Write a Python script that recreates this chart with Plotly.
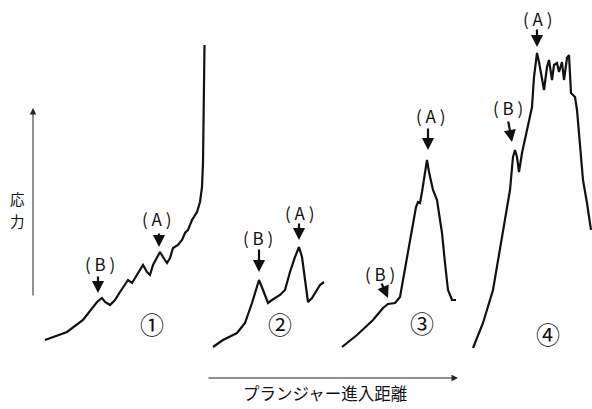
import plotly.graph_objects as go

# Stress vs plunger penetration distance for four samples (arbitrary units)
dist_1 = [45, 55, 67, 83, 97, 102, 105, 110, 115, 120, 128, 132, 137, 140, 143, 147, 150, 153, 157, 160,
          163, 167, 170, 173, 178, 182, 185, 188, 192, 197, 200, 202, 203, 203.3, 204, 204.5]
stress_1 = [69, 73, 77, 89, 107, 111, 107, 104, 109, 117, 129, 126, 134, 139, 144, 137, 134, 144, 151, 157,
            152, 146, 151, 161, 164, 169, 176, 179, 189, 197, 207, 222, 246, 279, 329, 364]

dist_2 = [213, 223, 237, 245, 252, 257, 259, 263, 268, 272, 280, 285, 290, 295, 299, 302, 305, 308, 312,
          317, 320, 324]
stress_2 = [62, 69, 76, 86, 106, 122, 129, 119, 106, 109, 114, 119, 137, 152, 162, 152, 129, 107, 111,
            119, 124, 127]

dist_3 = [342, 357, 373, 383, 388, 395, 400, 403, 408, 413, 416, 418, 420, 422, 425, 427, 429, 433, 437,
          438, 442, 445, 448, 452, 456]
stress_3 = [62, 74, 89, 101, 105, 106, 112, 129, 159, 189, 202, 207, 206, 217, 237, 249, 237, 219, 209,
            202, 176, 146, 119, 109, 109]

dist_4 = [473, 483, 493, 500, 505, 510, 513, 515, 517, 519, 522, 525, 528, 532, 534, 537, 539, 542, 544,
          547, 549, 552, 554, 557, 559, 562, 564, 567, 569, 571, 575, 577, 580, 583, 587, 591]
stress_4 = [61, 86, 119, 162, 192, 219, 252, 259, 252, 237, 256, 269, 282, 302, 332, 356, 347, 332, 319,
            342, 349, 329, 344, 346, 337, 347, 329, 351, 354, 316, 312, 299, 266, 229, 206, 179]

curves = [(dist_1, stress_1), (dist_2, stress_2), (dist_3, stress_3), (dist_4, stress_4)]

# Event markers: label text, label position, arrow tail and arrow head
marker_labels = ["( A )", "( B )", "( B )", "( A )", "( A )", "( B )", "( A )", "( B )"]
label_x = [156, 100, 258, 299, 430, 380, 537, 508]
label_y = [191, 146, 172, 197, 294, 136, 391, 302]
tail_x = [159, 98, 259, 299, 428, 381, 537, 508]
tail_y = [177, 134, 161, 187, 282, 127, 381, 289]
head_x = [159, 98, 259, 299, 428, 388, 537, 512]
head_y = [162, 116, 137, 169, 259, 111, 362, 267]

# Sample numbers
sample_names = ["①", "②", "③", "④"]
sample_x = [152, 280, 422, 548]
sample_y = [86, 86, 87, 76]

x_title = "プランジャー進入距離"
y_title = "応力"
y_title_pos = [211, 189]

FONT = "Noto Sans CJK JP, Noto Sans, sans-serif"

fig = go.Figure()
for xs, ys in curves:
    fig.add_trace(go.Scatter(x=xs, y=ys, mode="lines",
                             line=dict(color="#111111", width=2.2),
                             hoverinfo="skip", showlegend=False))

annotations = []
for t, lx, ly, tx, ty, hx, hy in zip(marker_labels, label_x, label_y, tail_x, tail_y, head_x, head_y):
    annotations.append(dict(x=lx, y=ly, text=t, showarrow=False,
                            font=dict(family=FONT, size=17, color="#111111")))
    annotations.append(dict(x=hx, y=hy, ax=tx, ay=ty, xref="x", yref="y", axref="x", ayref="y",
                            text="", showarrow=True, arrowhead=2, arrowsize=1.1,
                            arrowwidth=2.2, arrowcolor="#111111"))

for t, sx, sy in zip(sample_names, sample_x, sample_y):
    annotations.append(dict(x=sx, y=sy, text=t, showarrow=False,
                            font=dict(family=FONT, size=24, color="#111111")))

# Axis arrows drawn as annotations
annotations.append(dict(x=33, y=301, ax=33, ay=112, xref="x", yref="y", axref="x", ayref="y",
                        text="", showarrow=True, arrowhead=2, arrowsize=1.3, arrowwidth=1,
                        arrowcolor="#222222"))
annotations.append(dict(x=458, y=31, ax=207, ay=31, xref="x", yref="y", axref="x", ayref="y",
                        text="", showarrow=True, arrowhead=2, arrowsize=1.3, arrowwidth=1,
                        arrowcolor="#222222"))
annotations.append(dict(x=325, y=16, text=x_title, showarrow=False,
                        font=dict(family=FONT, size=16.5, color="#111111")))
# Vertical axis title, one character per line
for ch, yy in zip(y_title, y_title_pos):
    annotations.append(dict(x=17, y=yy, text=ch, showarrow=False, borderpad=0,
                            font=dict(family=FONT, size=14.5, color="#111111")))

fig.update_layout(
    width=592, height=409, autosize=False,
    margin=dict(l=0, r=0, t=0, b=0),
    paper_bgcolor="white", plot_bgcolor="white",
    xaxis=dict(range=[0, 592], visible=False, fixedrange=True),
    yaxis=dict(range=[0, 409], visible=False, fixedrange=True),
    annotations=annotations,
    showlegend=False,
)

fig.write_html("out.html")
